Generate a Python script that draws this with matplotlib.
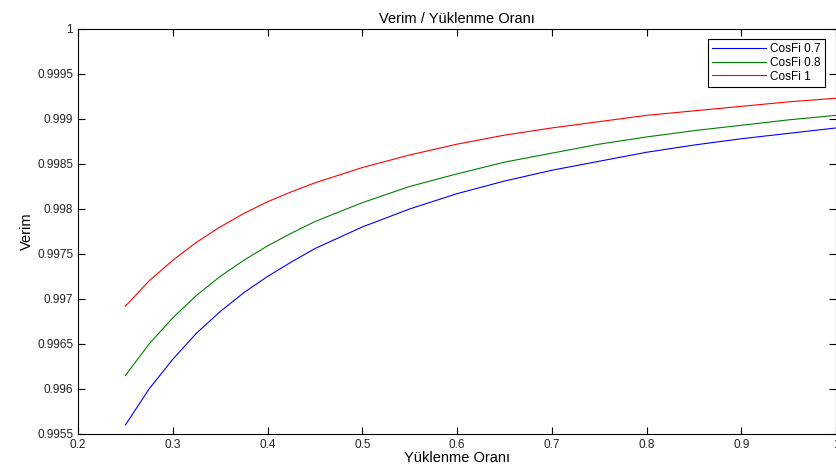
import numpy as np
import matplotlib.pyplot as plt
from matplotlib.ticker import FuncFormatter

plt.rcParams['font.family'] = ['Liberation Sans', 'DejaVu Sans']

# load ratio (Yüklenme Oranı)
load = [0.25, 0.275, 0.30, 0.325, 0.35, 0.375, 0.40, 0.425, 0.45, 0.50, 0.55, 0.60,
        0.65, 0.70, 0.75, 0.80, 0.85, 0.90, 0.95, 1.00]

# efficiency for each power factor
eff_07 = [0.99560, 0.99600, 0.99633, 0.99662, 0.99686, 0.99707, 0.99725, 0.99741,
          0.99756, 0.99780, 0.99800, 0.99817, 0.99831, 0.99843, 0.99853, 0.99863,
          0.99871, 0.99878, 0.99884, 0.99890]
eff_08 = [0.99615, 0.99650, 0.99679, 0.99704, 0.99725, 0.99743, 0.99759, 0.99773,
          0.99786, 0.99807, 0.99825, 0.99839, 0.99852, 0.99862, 0.99872, 0.99880,
          0.99887, 0.99893, 0.99899, 0.99904]
eff_10 = [0.99692, 0.99720, 0.99743, 0.99763, 0.99780, 0.99795, 0.99808, 0.99819,
          0.99829, 0.99846, 0.99860, 0.99872, 0.99882, 0.99890, 0.99897, 0.99904,
          0.99909, 0.99914, 0.99919, 0.99923]

labels = ['CosFi 0.7', 'CosFi 0.8', 'CosFi 1']
x_ticks = [0.2, 0.3, 0.4, 0.5, 0.6, 0.7, 0.8, 0.9, 1.0]
y_ticks = [0.9955, 0.996, 0.9965, 0.997, 0.9975, 0.998, 0.9985, 0.999, 0.9995, 1.0]

fig = plt.figure(figsize=(8.36, 4.71), dpi=100)
ax = fig.add_axes([0.0933, 0.0786, 0.907, 0.860])

ax.plot(load, eff_07, color=(0, 0, 1), lw=0.8, label=labels[0])
ax.plot(load, eff_08, color=(0, 0.5, 0), lw=0.8, label=labels[1])
ax.plot(load, eff_10, color=(1, 0, 0), lw=0.8, label=labels[2])

ax.set_xlim(0.2, 1.0)
ax.set_ylim(0.9955, 1.0)
ax.set_xticks(x_ticks)
ax.set_yticks(y_ticks)
ax.xaxis.set_major_formatter(FuncFormatter(lambda v, p: '%g' % round(v, 4)))
ax.yaxis.set_major_formatter(FuncFormatter(lambda v, p: '%g' % round(v, 4)))
ax.tick_params(direction='in', length=5, width=0.8, labelsize=8.5,
               top=True, right=True, colors='black', labelcolor='#222222')

for s in ax.spines.values():
    s.set_linewidth(0.8)

ax.set_title('Verim / Yüklenme Oranı', fontsize=10.5, pad=4)
ax.set_xlabel('Yüklenme Oranı', fontsize=10.5, labelpad=0)
ax.set_ylabel('Verim', fontsize=10.5, labelpad=2)

leg = ax.legend(loc='upper right', fontsize=8.5, fancybox=False, framealpha=1,
                edgecolor='black', borderpad=0.35, labelspacing=0.15,
                handlelength=4.5, handletextpad=0.4, bbox_to_anchor=(0.993, 0.99))
leg.get_frame().set_linewidth(0.8)

fig.savefig('out.png', dpi=100)
